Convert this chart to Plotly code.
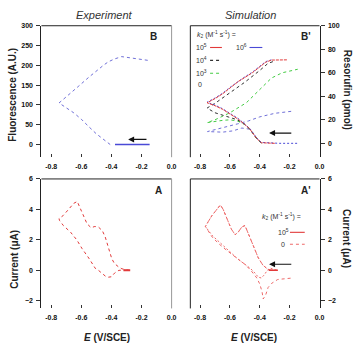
import plotly.graph_objects as go

W, H = 362, 345

# ---------------- data ----------------
# Panel B (experiment, fluorescence)
b_start_x = [-0.146, -0.376]
b_start_y = [0, 0]
b_loop_x = [-0.408, -0.45, -0.5, -0.55, -0.6, -0.65, -0.7, -0.748, -0.72, -0.68, -0.616, -0.55, -0.5, -0.45, -0.42, -0.38, -0.332, -0.28, -0.22, -0.146]
b_loop_y = [0, 12, 27, 45, 64, 80, 93, 105, 114, 128, 148, 170, 186, 201, 209, 216, 222, 220, 216, 212]

# Panel B' (simulation, resorufin pmol)
bs_k5_x = [-0.30, -0.39, -0.42, -0.466, -0.5, -0.543, -0.6, -0.65, -0.7, -0.753, -0.7, -0.65, -0.6, -0.543, -0.5, -0.45, -0.4, -0.36, -0.322, -0.212]
bs_k5_y = [0, 0.5, 4, 12, 16, 20.4, 25, 29, 32, 34.5, 38, 42, 47, 52.7, 56, 60, 65, 69, 70.8, 71]
bs_k6_x = [-0.15, -0.27, -0.39, -0.42, -0.466, -0.5, -0.543, -0.6, -0.65, -0.7, -0.753, -0.7, -0.65, -0.6, -0.543, -0.5, -0.45, -0.4, -0.36, -0.322]
bs_k6_y = [0, 0, 0.8, 4.5, 12.5, 16.5, 21, 25.5, 29.5, 32.5, 35, 38.5, 42.5, 47.5, 53, 56.5, 60.5, 65.5, 69.5, 71]
bs_k4_x = [-0.39, -0.42, -0.466, -0.5, -0.55, -0.6, -0.65, -0.7, -0.753, -0.7, -0.6, -0.5, -0.4, -0.345, -0.3]
bs_k4_y = [0.5, 4, 12, 16, 20, 22, 24, 26, 30, 34, 43, 52, 62, 68, 70]
bs_k3_x = [-0.39, -0.42, -0.466, -0.5, -0.55, -0.6, -0.65, -0.7, -0.753, -0.7, -0.6, -0.49, -0.4, -0.322, -0.25, -0.146]
bs_k3_y = [0.5, 4, 12, 16, 19, 20, 19.5, 18.5, 17.6, 20, 26, 34.5, 46, 55.5, 60, 63]
bs_k0_x = [-0.39, -0.42, -0.466, -0.52, -0.58, -0.65, -0.75, -0.7, -0.65, -0.55, -0.477, -0.4, -0.3, -0.178]
bs_k0_y = [0.5, 4, 12, 13, 10.6, 9.5, 10, 11.5, 13, 16.5, 19, 22.5, 25.5, 27.4]

# Panel A (experiment, current uA)
a_start_x = [-0.32, -0.275]
a_start_y = [0, 0]
a_cv_x = [-0.28, -0.30, -0.33, -0.354, -0.38, -0.398, -0.42, -0.441, -0.46, -0.486, -0.51, -0.535, -0.562, -0.585, -0.606, -0.627, -0.65, -0.673, -0.693, -0.72, -0.748, -0.745, -0.72, -0.695, -0.671, -0.63, -0.595, -0.55, -0.507, -0.486, -0.46, -0.44, -0.42, -0.40, -0.376, -0.35, -0.32, -0.30]
a_cv_y = [0.0, 0.02, 0.1, 0.24, 0.45, 0.78, 1.5, 2.19, 2.6, 2.84, 2.88, 2.8, 3.06, 3.6, 4.15, 4.52, 4.4, 4.15, 3.93, 3.6, 3.4, 3.28, 2.95, 2.7, 2.5, 2.0, 1.43, 0.8, 0.13, 0.0, -0.2, -0.38, -0.45, -0.42, -0.15, 0.0, 0.02, 0.0]

# Panel A' (simulation, current uA)
as_start_x = [-0.34, -0.28]
as_start_y = [0, 0]
as_k5_x = [-0.28, -0.31, -0.344, -0.38, -0.41, -0.44, -0.47, -0.499, -0.52, -0.545, -0.565, -0.59, -0.62, -0.645, -0.664, -0.69, -0.72, -0.745, -0.764, -0.72, -0.675, -0.62, -0.543, -0.5, -0.46, -0.43, -0.41, -0.39, -0.37, -0.35, -0.33, -0.30, -0.28]
as_k5_y = [0, 0, 0.05, 0.35, 0.82, 1.5, 2.3, 2.94, 2.85, 2.5, 2.34, 2.7, 3.4, 4.0, 4.29, 4.0, 3.6, 3.2, 2.88, 2.3, 1.9, 1.4, 0.71, 0.4, 0.1, -0.2, -0.45, -0.5, -0.3, 0.0, 0.15, 0.05, 0.0]
as_k0_x = [-0.28, -0.31, -0.344, -0.38, -0.41, -0.44, -0.47, -0.499, -0.52, -0.545, -0.565, -0.59, -0.62, -0.645, -0.664, -0.69, -0.72, -0.745, -0.764, -0.72, -0.675, -0.62, -0.56, -0.5, -0.46, -0.42, -0.40, -0.385, -0.377, -0.36, -0.344, -0.32, -0.28, -0.23, -0.179]
as_k0_y = [0, 0, 0.05, 0.35, 0.82, 1.5, 2.3, 2.94, 2.85, 2.5, 2.34, 2.7, 3.4, 4.0, 4.29, 4.0, 3.6, 3.2, 2.88, 2.2, 1.75, 1.3, 0.85, 0.4, 0.0, -0.5, -0.9, -1.4, -1.88, -1.6, -1.12, -0.85, -0.6, -0.55, -0.5]

x_ticks = [-0.8, -0.6, -0.4, -0.2, 0.0]
x_ticktext = ["-0.8", "-0.6", "-0.4", "-0.2", "0.0"]
fl_ticks = [0, 50, 100, 150, 200, 250, 300]
res_ticks = [0, 20, 40, 60, 80, 100]
cur_ticks = [-2, 0, 2, 4, 6]

# ---------------- figure ----------------
FONT = "Liberation Sans, Arial, sans-serif"
RED = "#e23a3a"
PINK = "#ee6a6a"
BLUE = "#4a4ad6"
PURP = "#7070d8"
GREEN = "#44cc44"

def px(xp):
    return xp / W

def py(yp):
    return 1 - yp / H

fig = go.Figure()

def line(x, y, xa, ya, color, dash="solid", width=1.0):
    fig.add_trace(go.Scatter(x=x, y=y, mode="lines", xaxis=xa, yaxis=ya,
                             line=dict(color=color, dash=dash, width=width),
                             showlegend=False, hoverinfo="skip"))

line(b_loop_x, b_loop_y, "x", "y", PURP, "dot", 1.0)
line(b_start_x, b_start_y, "x", "y", BLUE, "solid", 1.5)

line(bs_k0_x, bs_k0_y, "x2", "y2", PURP, "dot", 1.0)
line(bs_k3_x, bs_k3_y, "x2", "y2", GREEN, "dot", 1.0)
line(bs_k4_x, bs_k4_y, "x2", "y2", "#333333", "dot", 1.0)
line(bs_k6_x, bs_k6_y, "x2", "y2", BLUE, "2px,2px", 1.0)
line(bs_k5_x, bs_k5_y, "x2", "y2", RED, "3px,1px", 1.0)

line(a_cv_x, a_cv_y, "x3", "y3", RED, "dot", 1.0)
line(a_start_x, a_start_y, "x3", "y3", RED, "solid", 2.0)

line(as_k0_x, as_k0_y, "x4", "y4", PINK, "dot", 1.0)
line(as_k5_x, as_k5_y, "x4", "y4", PINK, "2px,2px", 1.0)
line(as_start_x, as_start_y, "x4", "y4", RED, "solid", 1.5)

tickfont = dict(family=FONT, size=7, color="#111", weight="bold")
xdom_l = [px(42), px(174)]
xdom_r = [px(193), px(324)]
ydom_t = [py(155), py(22)]
ydom_b = [py(308), py(177)]

def xax(dom, anchor):
    return dict(domain=dom, anchor=anchor, range=[-0.865, 0.0], tickvals=x_ticks,
                ticktext=x_ticktext, ticks="inside", ticklen=3, tickwidth=1,
                tickcolor="#333", showline=False, showgrid=False, zeroline=False,
                tickfont=tickfont, ticklabelstandoff=4)

def yax(dom, anchor, rng, tv, side):
    return dict(domain=dom, anchor=anchor, range=rng, tickvals=tv, ticks="outside",
                ticklen=4, tickwidth=1, tickcolor="#333", showline=True,
                linecolor="#222", linewidth=1, showgrid=False, zeroline=False,
                side=side, tickfont=tickfont, ticklabelstandoff=2)

fig.update_layout(
    width=W, height=H, margin=dict(l=0, r=0, t=0, b=0),
    paper_bgcolor="white", plot_bgcolor="white",
    xaxis=xax(xdom_l, "y"),
    yaxis=yax(ydom_t, "x", [-32, 300], fl_ticks, "left"),
    xaxis2=xax(xdom_r, "y2"),
    yaxis2=yax(ydom_t, "x2", [-11.8, 100], res_ticks, "right"),
    xaxis3=xax(xdom_l, "y3"),
    yaxis3=yax(ydom_b, "x3", [-2.5, 6], cur_ticks, "left"),
    xaxis4=xax(xdom_r, "y4"),
    yaxis4=yax(ydom_b, "x4", [-2.5, 6], cur_ticks, "right"),
)

# frame lines (top and opposite side)
shapes = []
for xa, ya, side_color, side_x in [("x", "y", "#999", 1), ("x2", "y2", "#222", 0),
                                   ("x3", "y3", "#999", 1), ("x4", "y4", "#222", 0)]:
    shapes.append(dict(type="line", xref=f"{xa} domain", yref=f"{ya} domain",
                       x0=0, x1=1, y0=1, y1=1, line=dict(color="#222", width=1)))
    shapes.append(dict(type="line", xref=f"{xa} domain", yref=f"{ya} domain",
                       x0=side_x, x1=side_x, y0=0, y1=1, line=dict(color=side_color, width=1)))

# legend samples
def seg(x0, x1, y, color, dash):
    shapes.append(dict(type="line", xref="paper", yref="paper", x0=px(x0), x1=px(x1),
                       y0=py(y), y1=py(y), line=dict(color=color, width=1.1, dash=dash)))

seg(213, 225, 44, RED, "solid")
seg(253, 266, 44, BLUE, "solid")
seg(213, 225, 57, "#333", "dot")
seg(213, 225, 70, GREEN, "dot")
seg(294, 309, 231, RED, "solid")
seg(294, 309, 243, PINK, "dot")
fig.update_layout(shapes=shapes)

ann = []
def text(x, y, s, size=7, bold=False, italic=False, angle=0, xanchor="center", color="#222"):
    f = dict(family=FONT, size=size, color=color)
    if bold:
        f["weight"] = "bold"
    if italic:
        f["style"] = "italic"
    ann.append(dict(x=px(x), y=py(y), xref="paper", yref="paper", text=s, showarrow=False,
                    font=f, textangle=angle, xanchor=xanchor, yanchor="middle"))

text(106, 11, "Experiment", size=11, italic=True, color="#333")
text(254, 11, "Simulation", size=11, italic=True, color="#333")
text(13, 92, "Fluorescence (A.U.)", size=10, bold=True, angle=-90)
text(14, 258, "Current (μA)", size=10, bold=True, angle=-90)
text(352, 87, "Resorufin (pmol)", size=10, bold=True, angle=90)
text(352, 237, "Current (μA)", size=10, bold=True, angle=90)
text(108, 337, "<i>E</i> (V/SCE)", size=10, bold=True)
text(258, 337, "<i>E</i> (V/SCE)", size=10, bold=True)
text(156, 33, "B", size=10, bold=True)
text(310, 33, "B'", size=10, bold=True)
text(161, 189, "A", size=10, bold=True)
text(310, 189, "A'", size=10, bold=True)

text(198, 31, "<i>k</i><sub>2</sub> (M<sup>-1</sup> s<sup>-1</sup>) =", size=7, xanchor="left", color="#333")
text(197, 44, "10<sup>5</sup>", size=7, xanchor="left", color="#333")
text(237, 44, "10<sup>6</sup>", size=7, xanchor="left", color="#333")
text(197, 57, "10<sup>4</sup>", size=7, xanchor="left", color="#333")
text(197, 70, "10<sup>3</sup>", size=7, xanchor="left", color="#333")
text(199, 81, "0", size=7, xanchor="left", color="#333")
text(264, 215, "<i>k</i><sub>2</sub> (M<sup>-1</sup> s<sup>-1</sup>) =", size=7, xanchor="left", color="#333")
text(280, 231, "10<sup>5</sup>", size=7, xanchor="left", color="#333")
text(283, 243, "0", size=7, xanchor="left", color="#333")

# arrows
def arrow(xa, ya, x_from, x_to, y, head=1.0):
    ann.append(dict(x=x_to, y=y, ax=x_from, ay=y, xref=xa, yref=ya, axref=xa, ayref=ya,
                    text="", showarrow=True, arrowhead=2, arrowsize=head, arrowwidth=1.2,
                    arrowcolor="#111"))

arrow("x", "y", -0.157, -0.289, 13)
arrow("x2", "y2", -0.179, -0.338, 8.7)
arrow("x4", "y4", -0.179, -0.338, 0.4)
arrow("x3", "y3", -0.262, -0.277, 0.41, head=1.0)

fig.update_layout(annotations=ann)
fig.write_html("out.html")
